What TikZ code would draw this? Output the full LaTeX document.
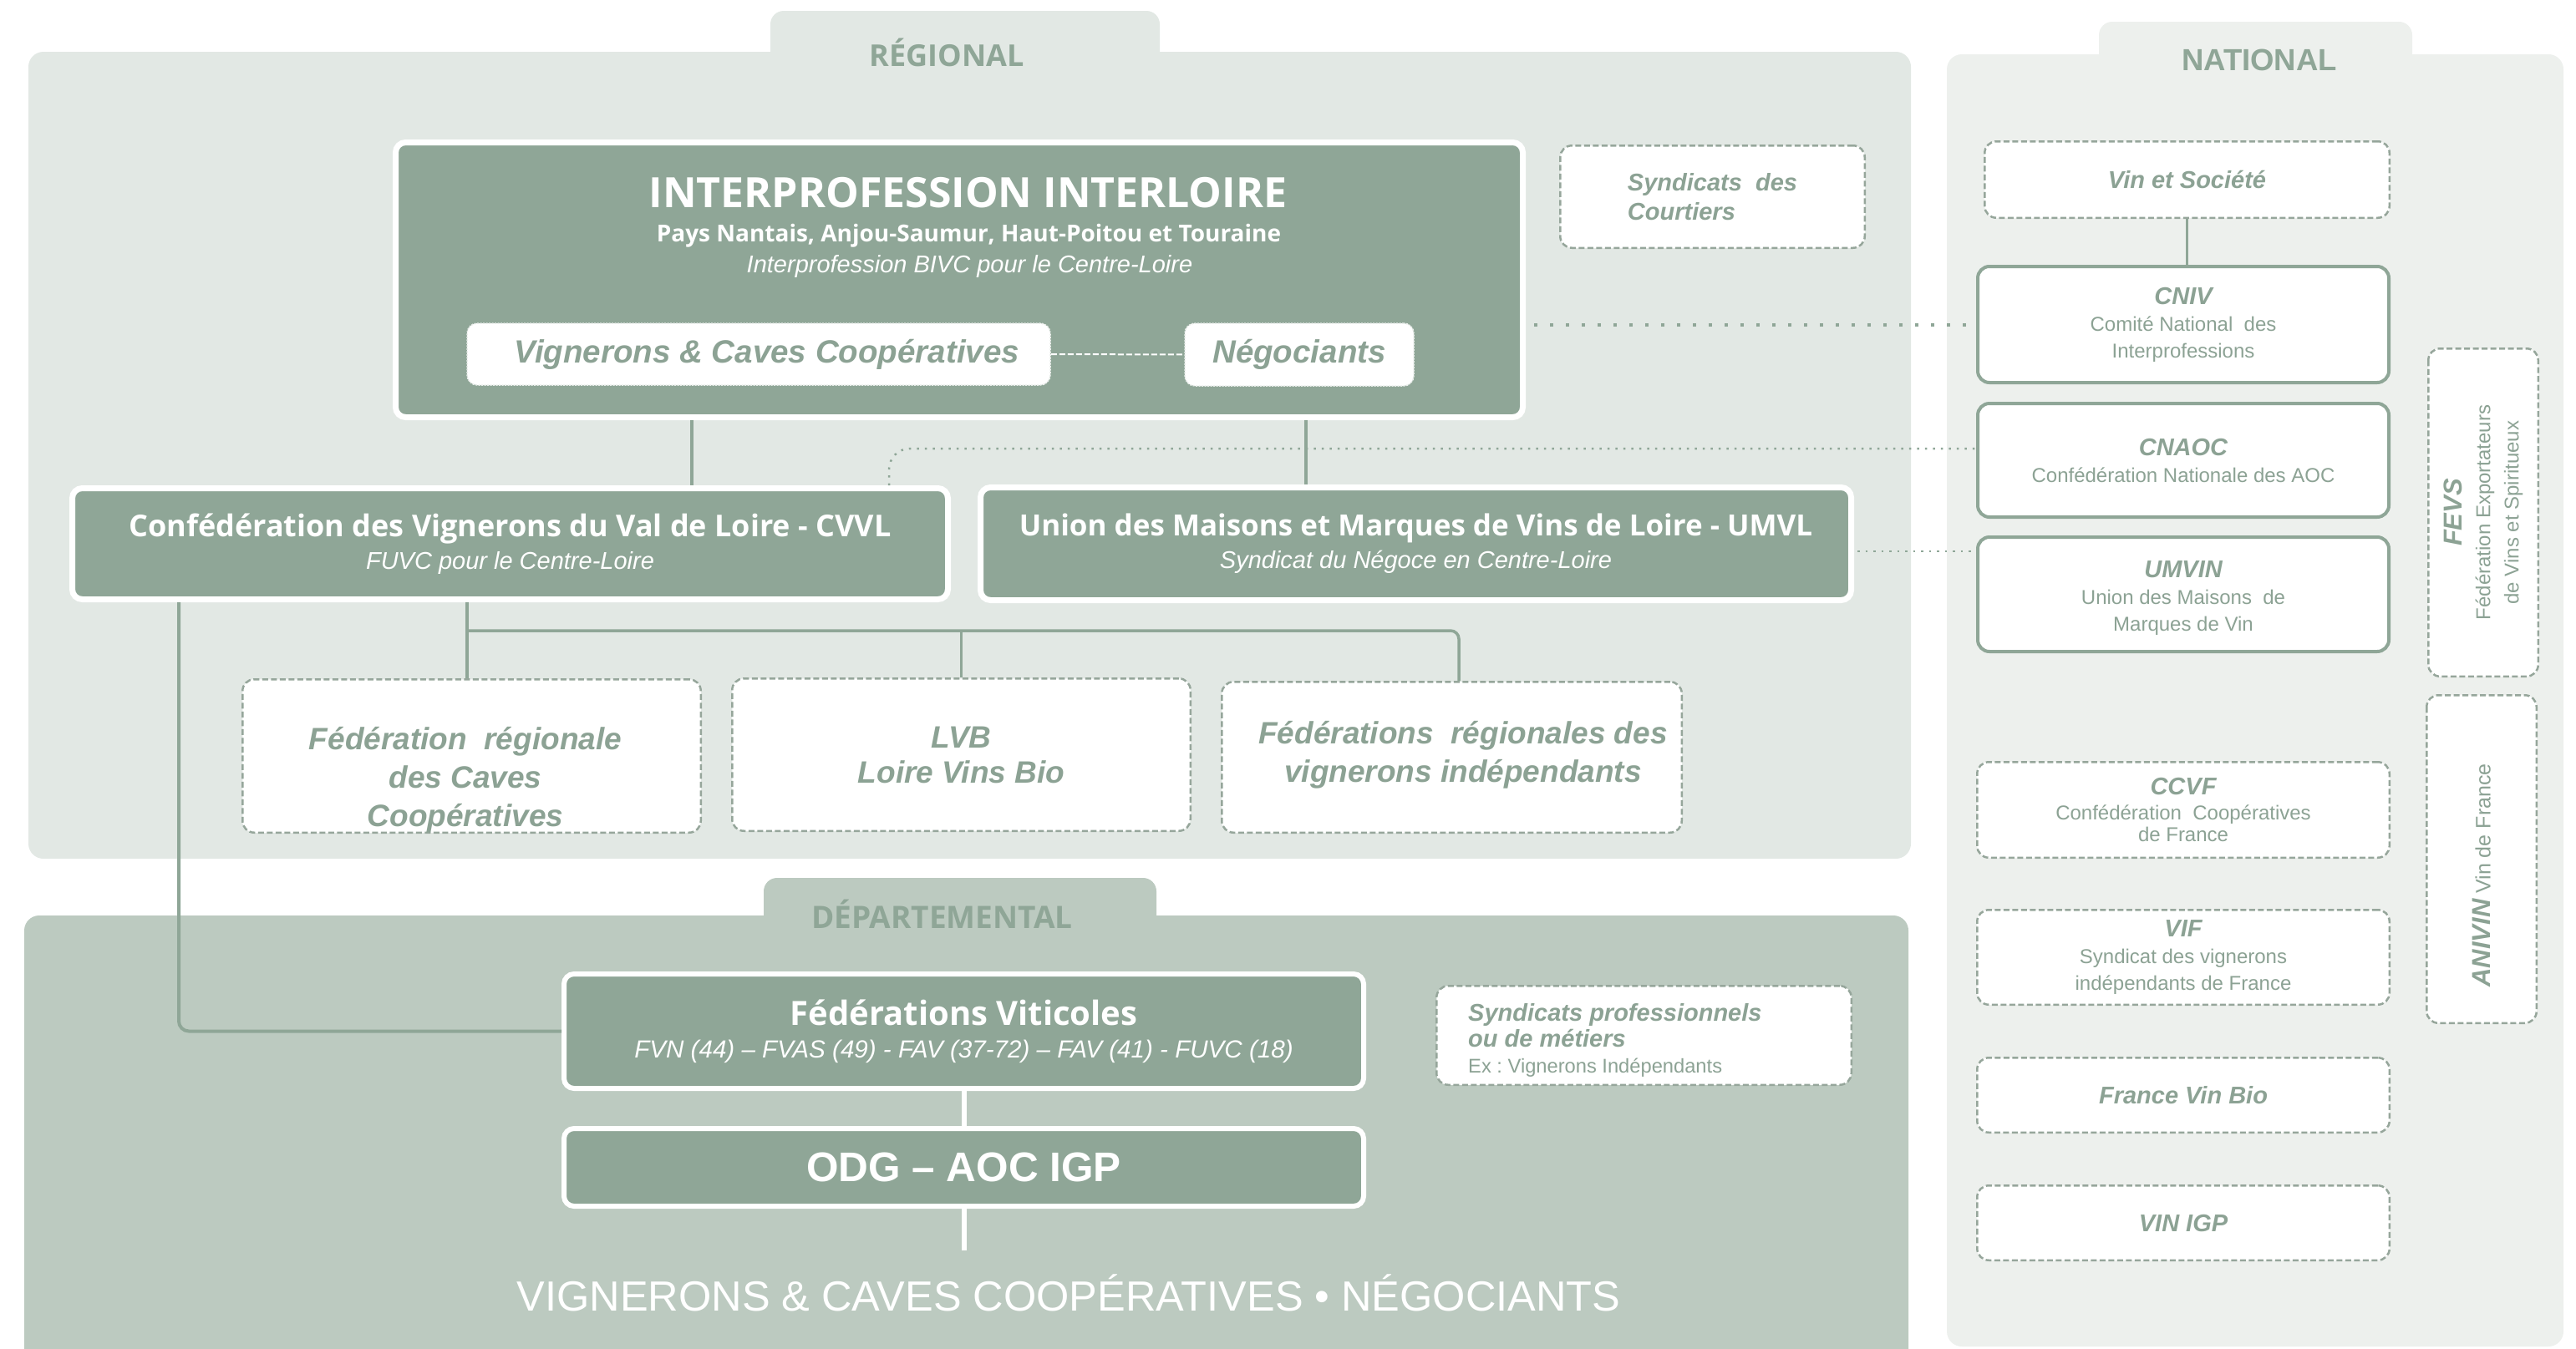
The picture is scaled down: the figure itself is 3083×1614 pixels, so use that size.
\documentclass[tikz,border=0pt]{standalone}
\usepackage{fontspec}
\setmainfont{Liberation Sans}
\newfontfamily\osans{Open Sans}
\usetikzlibrary{calc}
\definecolor{dkgreen}{RGB}{143,166,151}
\definecolor{regbg}{RGB}{226,232,228}
\definecolor{natbg}{RGB}{237,240,237}
\definecolor{depbg}{RGB}{188,202,192}
\definecolor{dashc}{RGB}{150,166,155}
\definecolor{txt}{RGB}{140,162,148}
\newcommand{\fs}[2]{\fontsize{#1}{#2}\selectfont}
\frenchspacing
\begin{document}
\begin{tikzpicture}[x=1pt,y=-1pt,
  darkbox/.style={draw=white, line width=7pt, fill=dkgreen, rounded corners=12pt, text=white, align=center, inner sep=0pt},
  wdashbox/.style={draw=white!80!dkgreen, line width=1.5pt, dash pattern=on 2pt off 1.5pt, fill=white, rounded corners=12pt, text=txt, inner sep=0pt},
  solidbox/.style={draw=dkgreen, line width=4pt, fill=white, rounded corners=14pt, text=txt, align=center, inner sep=0pt},
  dashbox/.style={draw=dashc, line width=2.5pt, dash pattern=on 7pt off 3.5pt, fill=white, rounded corners=14pt, text=txt, align=center, inner sep=0pt},
  conn/.style={draw=dkgreen, line width=3.5pt},
  wconn/.style={draw=white, line width=6pt},
  dotbig/.style={draw=dkgreen, line width=4pt, dash pattern=on 4pt off 15pt},
  dotfine/.style={draw=dkgreen, line width=2.5pt, dash pattern=on 2.5pt off 7pt},
  ptitle/.style={font=\osans\bfseries\fs{36}{40}, text=dkgreen, anchor=base, inner sep=0pt},
  natt/.style={font=\bfseries\itshape\fs{29}{33}},
]
\useasboundingbox (0,0) rectangle (3083,1614);
% panels
\fill[regbg, rounded corners=16pt] (922,13) rectangle (1388,120);
\fill[regbg, rounded corners=18pt] (34,62) rectangle (2287,1028);
\fill[natbg, rounded corners=16pt] (2512,26) rectangle (2887,120);
\fill[natbg, rounded corners=18pt] (2330,65) rectangle (3068,1612);
\fill[depbg, rounded corners=16pt] (914,1051) rectangle (1384,1150);
\fill[depbg, rounded corners=18pt] (29,1096) rectangle (2284,1650);
\node[ptitle] (treg) at (1133,79) {RÉGIONAL};
\node[ptitle, font=\bfseries\fs{36.5}{40}] (tnat) at (2704,84.5) {NATIONAL};
\node[ptitle, font=\osans\bfseries\fs{37}{40}] (tdep) at (1127.5,1111.5) {DÉPARTEMENTAL};

% regional
\node[darkbox, minimum width=1349, minimum height=329] (interpro) at (1148,335) {};
\node[text=white, anchor=base, inner sep=0pt, font=\osans\bfseries\fs{50}{54}] (it1) at (1158.5,248) {INTERPROFESSION INTERLOIRE};
\node[text=white, anchor=base, inner sep=0pt, font=\osans\bfseries\fs{28}{32}] (it2) at (1159.5,289) {Pays Nantais, Anjou-Saumur, Haut-Poitou et Touraine};
\node[text=white, anchor=base, inner sep=0pt, font=\itshape\fs{29}{32}] (it3) at (1160.5,326) {Interprofession BIVC pour le Centre-Loire};
\node[wdashbox, minimum width=698, minimum height=74] (vig) at (908,424) {};
\node[text=txt, inner sep=0pt, font=\bfseries\itshape\fs{38.5}{42}] (vigtxt) at (918,424) {Vignerons \& Caves Coopératives};
\node[wdashbox, minimum width=274, minimum height=75, font=\bfseries\itshape\fs{38.5}{42}] (nego) at (1555,424.5) {Négociants};
\node[dashbox, minimum width=364.5, minimum height=122.5, align=left, font=\bfseries\itshape\fs{29}{35}] (court) at (2049.5,235.5) {Syndicats~ des\\Courtiers};

\node[darkbox, minimum width=1048, minimum height=133, font=\fs{29}{39}] (cvvl) at (610.5,651) {{\osans\bfseries\fs{36}{39}Confédération des Vignerons du Val de Loire - CVVL}\\{\itshape FUVC pour le Centre-Loire}};
\node[darkbox, minimum width=1042, minimum height=135, font=\fs{29}{39}] (umvl) at (1694.5,651) {{\osans\bfseries\fs{35}{39}Union des Maisons et Marques de Vins de Loire - UMVL}\\{\itshape Syndicat du Négoce en Centre-Loire}};

\node[dashbox, minimum width=548.5, minimum height=183.5] (fedreg) at (564.5,905) {};
\node[text=txt, align=center, inner sep=0pt, font=\bfseries\itshape\fs{37}{46}] (fedregtxt) at (557,934) {Fédération~ régionale\\des Caves\\Coopératives};
\node[dashbox, minimum width=548.5, minimum height=182.5, font=\bfseries\itshape\fs{37}{42}] (lvb) at (1150.5,903.5) {LVB\\Loire Vins Bio};
\node[dashbox, minimum width=550.5, minimum height=180.5] (fedvi) at (1737.5,906.5) {};
\node[text=txt, align=center, inner sep=0pt, font=\bfseries\itshape\fs{37}{46}] (fedvitxt) at (1751,904) {Fédérations~ régionales des\\vignerons indépendants};

% departemental
\node[darkbox, line width=6pt, minimum width=957, minimum height=137, font=\fs{29.6}{39}] (fv) at (1153.5,1234.5) {{\osans\bfseries\fs{40}{39}Fédérations Viticoles}\\{\itshape FVN (44) – FVAS (49) - FAV (37-72) – FAV (41) - FUVC (18)}};
\node[darkbox, line width=6pt, minimum width=957, minimum height=93, font=\bfseries\fs{49.5}{52}] (odg) at (1153.5,1397.5) {ODG – AOC IGP};
\node[text=white, inner sep=0pt, font=\fs{50.5}{54}] (vcn) at (1279,1548) {VIGNERONS \& CAVES COOPÉRATIVES • NÉGOCIANTS};
\coordinate (odgend) at (1153.5,1497);
\node[dashbox, minimum width=496.5, minimum height=118.5] (syndp) at (1967.5,1239.5) {};
\node[text=txt, anchor=north west, align=left, inner sep=0pt, font=\fs{29}{31}] (syndptxt) at (1757,1201) {{\bfseries\itshape Syndicats professionnels}\\{\bfseries\itshape ou de métiers}\\{\fs{23.7}{31}Ex : Vignerons Indépendants}};

% national
\node[dashbox, minimum width=484.5, minimum height=91.5, natt] (vin) at (2617.5,215) {Vin et Société};
\node[solidbox, minimum width=492, minimum height=139, font=\fs{24}{32}] (cniv) at (2613,388.5) {{\bfseries\itshape\fs{29}{33}CNIV}\\Comité National~ des\\Interprofessions};
\node[solidbox, minimum width=492, minimum height=136, font=\fs{24}{32}] (cnaoc) at (2613,551) {{\bfseries\itshape\fs{29}{33}CNAOC}\\Confédération Nationale des AOC};
\node[solidbox, minimum width=492, minimum height=137] (umvin) at (2613,711.5) {};
\node[text=txt, align=center, inner sep=0pt, font=\fs{24}{32}] (umvintxt) at (2613,716) {{\bfseries\itshape\fs{29}{33}UMVIN}\\Union des Maisons~ de\\Marques de Vin};
\node[dashbox, minimum width=493.5, minimum height=114.5, font=\fs{24}{26}] (ccvf) at (2613,969.5) {{\bfseries\itshape\fs{29}{33}CCVF}\\[4pt]Confédération~ Coopératives\\de France};
\node[dashbox, minimum width=493.5, minimum height=113.5, font=\fs{24}{32}] (vif) at (2613,1146) {{\bfseries\itshape\fs{29}{33}VIF}\\Syndicat des vignerons\\indépendants de France};
\node[dashbox, minimum width=493.5, minimum height=89.5, natt] (fvb) at (2613,1311) {France Vin Bio};
\node[dashbox, minimum width=493.5, minimum height=89.5, natt] (vinigp) at (2613,1464) {VIN IGP};
\node[dashbox, rotate=90, minimum width=392.5, minimum height=131.5, font=\fs{24}{34}] (fevs) at (2972,613.5) {{\bfseries\itshape\fs{31}{34}FEVS}\\Fédération Exportateurs\\de Vins et Spiritueux};
\node[dashbox, rotate=90, minimum width=392.5, minimum height=131.5] (anivin) at (2970,1028.5) {};
\node[text=txt, rotate=90, inner sep=0pt, font=\fs{25}{30}] (anivintxt) at (2970,1048) {{\bfseries\itshape\fs{31}{34}ANIVIN} Vin de France};

% connectors
\coordinate (xa) at (828,0);
\coordinate (xb) at (1563,0);
\coordinate (xc) at (1064,537);
\coordinate (bus) at (559,755);
\coordinate (xd) at (1746,0);
\coordinate (xe) at (214,0);
\coordinate (ye) at (0,660);
\draw[conn] (interpro.south -| xa) -- (cvvl.north -| xa);
\draw[conn] (interpro.south -| xb) -- (umvl.north -| xb);
\draw[white, line width=2pt, dash pattern=on 7pt off 3pt] (vig.east) -- (nego.west);
\draw[dotbig, shorten <=10pt] (interpro.east |- cniv.west) -- (cniv.west);
\draw[dotfine, rounded corners=25pt] (cvvl.north -| xc) |- (cnaoc.west |- xc);
\draw[dotfine, shorten <=4pt] (umvl.east |- ye) -- (umvin.west |- ye);
\draw[conn, line width=3pt] (vin.south) -- (vin.south |- cniv.north);
\draw[conn] (cvvl.south -| bus) -- (fedreg.north -| bus);
\draw[conn, rounded corners=10pt] (bus) -| (fedvi.north -| xd);
\draw[conn] (bus -| lvb.north) -- (lvb.north);
\draw[conn, line width=4pt, rounded corners=12pt] (cvvl.south -| xe) |- (fv.west);
\draw[wconn] (fv.south) -- (odg.north);
\draw[wconn] (odg.south) -- (odgend);
\end{tikzpicture}
\end{document}
